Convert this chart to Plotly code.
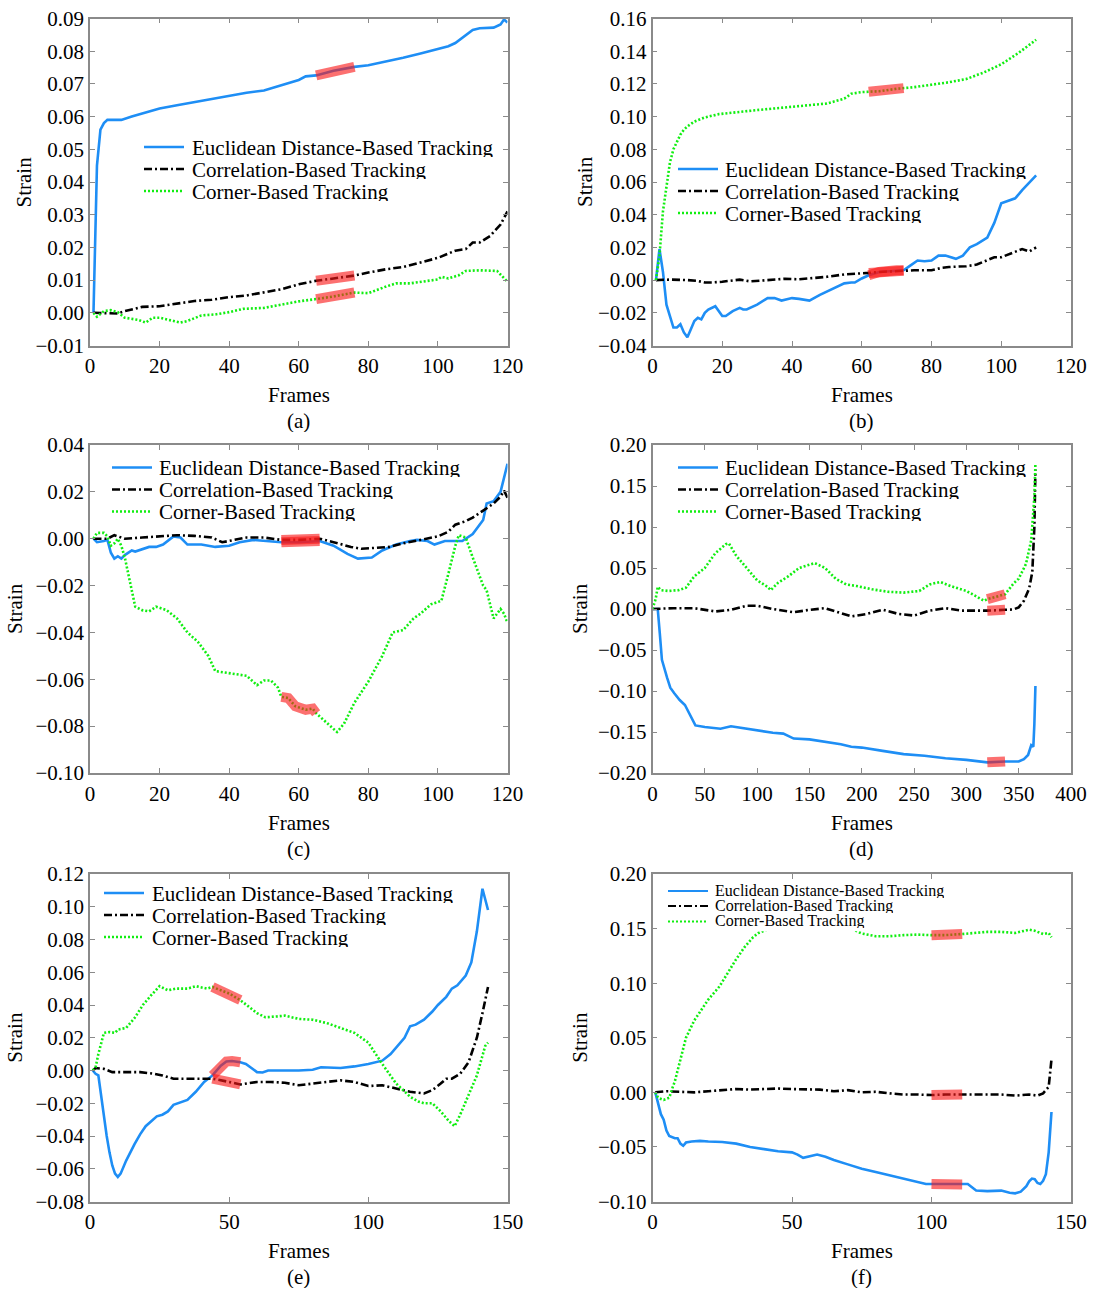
import plotly.graph_objects as go

W, H = 1094, 1289

# ---------------- data ----------------
# (a)
a_euc_x = [1,2,3,4,5,9,12,15,20,25,30,35,40,45,50,55,60,62,65,70,76,80,85,90,95,100,103,105,107,110,112,116,118,119,120]
a_euc = [0,0.045,0.056,0.058,0.059,0.059,0.060,0.061,0.0625,0.0635,0.0645,0.0655,0.0665,0.0673,0.068,0.0695,0.0712,0.0723,0.0726,0.074,0.0752,0.0757,0.0768,0.078,0.0793,0.0806,0.0815,0.0825,0.084,0.0865,0.087,0.0872,0.0882,0.0897,0.0888]
a_cor_x = [1,5,8,10,15,20,25,30,35,40,45,50,55,60,65,70,76,80,85,90,95,100,105,108,110,112,115,118,120]
a_cor = [0,0,-0.0002,0.0005,0.0018,0.002,0.0028,0.0036,0.004,0.0048,0.0053,0.0062,0.0072,0.0087,0.0098,0.0105,0.0114,0.0123,0.0133,0.014,0.0153,0.0168,0.019,0.0195,0.0215,0.0215,0.0235,0.027,0.031]
a_crn_x = [1,2,4,6,8,10,14,16,18,20,24,26,28,32,36,40,44,50,55,60,65,70,76,80,85,88,92,96,100,101,103,106,108,112,115,117,120]
a_crn = [0,-0.0012,0.0005,0.0008,0.0002,-0.0015,-0.0022,-0.003,-0.0015,-0.0015,-0.0025,-0.003,-0.0025,-0.0008,-0.0005,0.0002,0.0012,0.0015,0.0025,0.0035,0.0042,0.005,0.0062,0.006,0.008,0.009,0.009,0.0095,0.0102,0.011,0.0105,0.0115,0.0128,0.013,0.0128,0.0128,0.0095]
a_hl = [(65, 76), (65, 76), (65, 76)]

# (b)
b_euc_x = [1,2,3,4,5,6,7,8,9,10,11,12,13,14,15,16,18,20,21,23,25,26,27,30,33,35,37,40,42,45,48,50,52,55,57,58,60,62,65,70,72,74,76,78,80,82,84,87,89,91,93,96,98,100,102,104,106,110]
b_euc = [0,0.019,0.005,-0.015,-0.022,-0.029,-0.029,-0.027,-0.032,-0.035,-0.03,-0.025,-0.023,-0.024,-0.02,-0.018,-0.016,-0.022,-0.022,-0.019,-0.017,-0.018,-0.018,-0.015,-0.011,-0.011,-0.0125,-0.011,-0.0115,-0.0125,-0.009,-0.007,-0.005,-0.002,-0.0015,-0.0015,0.001,0.003,0.005,0.006,0.006,0.009,0.012,0.0115,0.012,0.015,0.015,0.013,0.015,0.02,0.022,0.026,0.035,0.047,0.0485,0.05,0.055,0.064]
b_cor_x = [1,5,10,13,15,17,20,25,28,30,35,38,42,45,50,55,60,62,65,70,72,75,80,83,85,90,93,96,98,100,103,106,108,110]
b_cor = [0,0.0003,0,-0.0005,-0.0015,-0.0015,-0.001,0.0003,-0.0008,-0.0005,0.0005,0.0008,0.0005,0.001,0.002,0.0035,0.004,0.0044,0.005,0.0055,0.0057,0.006,0.006,0.0075,0.008,0.0085,0.0095,0.0125,0.014,0.014,0.0165,0.019,0.0175,0.02]
b_crn_x = [1,2,3,4,5,6,7,8,9,10,12,15,19,25,30,35,40,45,50,55,57,60,62,65,70,72,75,80,85,90,95,100,105,110]
b_crn = [0,0.015,0.042,0.058,0.072,0.08,0.085,0.089,0.092,0.094,0.097,0.0995,0.1015,0.103,0.104,0.105,0.106,0.107,0.108,0.111,0.114,0.115,0.1152,0.1155,0.117,0.1174,0.118,0.1195,0.121,0.123,0.127,0.132,0.139,0.147]
b_hl = [(62, 72), (62, 72), (62, 72)]

# (c)
c_euc_x = [1,2,4,5,6,7,8,9,10,12,13,17,19,21,24,26,28,32,34,36,40,43,47,50,55,60,66,70,74,77,81,84,88,92,94,97,99,102,105,107,110,113,114,116,118,120]
c_euc = [0,-0.0015,-0.001,-0.0005,-0.006,-0.0085,-0.0075,-0.0085,-0.007,-0.005,-0.0055,-0.0035,-0.0035,-0.0025,0.001,0.0005,-0.0025,-0.0025,-0.003,-0.0035,-0.003,-0.0015,-0.0005,-0.0008,-0.0015,-0.0015,-0.001,-0.003,-0.0065,-0.0085,-0.008,-0.005,-0.0025,-0.001,-0.0005,-0.001,-0.0025,-0.001,-0.001,-0.001,0.002,0.008,0.015,0.016,0.02,0.032]
c_cor_x = [1,3,5,7,10,15,20,25,30,35,38,40,45,50,55,60,66,70,75,78,82,86,90,95,100,103,105,108,110,113,116,118,119,120]
c_cor = [0,0,0,0.0015,0,0.0005,0.001,0.0015,0.0012,0.0005,-0.0015,-0.001,0.0005,0.0005,-0.0005,-0.0005,0,-0.0015,-0.0035,-0.0043,-0.004,-0.0035,-0.002,-0.0005,0.001,0.003,0.006,0.0075,0.009,0.012,0.015,0.018,0.0205,0.0175]
c_crn_x = [1,2,4,5,6,7,8,9,10,11,12,13,15,17,19,22,25,28,31,34,36,40,45,48,50,52,54,55,57,59,62,64,65,68,71,73,76,80,84,87,90,93,95,98,101,103,105,106,108,110,112,113,114,116,118,119,120]
c_crn = [0,0.0025,0.0025,0.001,-0.003,-0.002,0,-0.003,-0.008,-0.015,-0.023,-0.029,-0.0305,-0.031,-0.029,-0.0305,-0.034,-0.04,-0.044,-0.05,-0.0565,-0.0575,-0.0585,-0.0625,-0.0605,-0.0605,-0.0635,-0.0675,-0.068,-0.0715,-0.073,-0.0725,-0.0745,-0.0785,-0.0825,-0.079,-0.07,-0.061,-0.05,-0.04,-0.039,-0.034,-0.032,-0.028,-0.0265,-0.015,-0.003,0.0015,0.0005,-0.008,-0.016,-0.02,-0.022,-0.034,-0.03,-0.032,-0.036]
c_hl = [(55, 66), (55, 66), (55, 65)]

# (d)
d_euc_x = [0,5,7,9,14,17,21,26,31,36,41,50,60,65,75,85,100,115,125,135,150,165,180,190,200,220,240,260,280,300,320,337,345,350,355,359,362,364,365,366]
d_euc = [0,0,-0.03,-0.062,-0.084,-0.096,-0.103,-0.111,-0.117,-0.13,-0.142,-0.144,-0.145,-0.146,-0.143,-0.145,-0.148,-0.151,-0.152,-0.158,-0.159,-0.162,-0.165,-0.168,-0.169,-0.173,-0.177,-0.179,-0.182,-0.184,-0.187,-0.186,-0.186,-0.186,-0.183,-0.178,-0.166,-0.168,-0.14,-0.094]
d_cor_x = [0,20,40,60,75,90,100,115,135,150,165,180,190,205,220,235,250,265,280,295,310,320,337,345,350,355,360,363,365,366]
d_cor = [0,0.001,0.001,-0.003,-0.001,0.004,0.004,0,-0.004,-0.001,0.001,-0.005,-0.009,-0.006,-0.001,-0.006,-0.008,-0.002,0.001,-0.002,-0.002,-0.002,-0.001,-0.0005,0.002,0.01,0.025,0.045,0.1,0.17]
d_crn_x = [0,3,5,8,15,25,32,40,50,60,70,73,80,90,100,110,113,120,130,140,155,165,175,185,195,210,225,240,255,265,275,285,300,310,317,320,337,345,350,357,362,365,366]
d_crn = [0,0.012,0.027,0.023,0.022,0.023,0.026,0.04,0.05,0.068,0.079,0.08,0.065,0.05,0.035,0.027,0.023,0.032,0.04,0.05,0.056,0.05,0.037,0.03,0.028,0.024,0.021,0.02,0.022,0.03,0.033,0.028,0.022,0.015,0.01,0.012,0.018,0.031,0.037,0.055,0.084,0.137,0.178]
d_hl = [(320, 337), (320, 337), (320, 337)]

# (e)
e_euc_x = [1,2,3,4,5,6,7,8,9,10,11,13,16,18,20,22,24,26,28,30,33,35,38,41,44,45,47,49,51,54,56,58,60,62,64,70,75,80,83,90,95,100,103,105,108,110,113,115,117,120,123,125,128,130,132,135,137,139,141,143]
e_euc = [0,-0.002,-0.003,-0.015,-0.03,-0.04,-0.05,-0.058,-0.063,-0.065,-0.063,-0.055,-0.045,-0.039,-0.034,-0.031,-0.028,-0.027,-0.025,-0.021,-0.019,-0.018,-0.013,-0.007,-0.003,-0.001,0.003,0.0055,0.0058,0.005,0.004,0.0015,-0.001,-0.0012,0,0,0,0.0005,0.002,0.0015,0.0025,0.004,0.005,0.006,0.01,0.014,0.02,0.027,0.028,0.031,0.036,0.04,0.045,0.05,0.052,0.058,0.066,0.085,0.111,0.098]
e_cor_x = [1,2,5,8,12,18,23,26,30,35,40,44,50,54,60,65,70,75,80,85,90,95,100,105,110,115,120,123,126,128,130,133,136,139,141,143]
e_cor = [0,0.0015,0.001,-0.001,-0.001,-0.001,-0.002,-0.003,-0.005,-0.005,-0.005,-0.005,-0.007,-0.0085,-0.007,-0.007,-0.0075,-0.009,-0.008,-0.007,-0.006,-0.007,-0.0095,-0.009,-0.011,-0.013,-0.014,-0.012,-0.008,-0.005,-0.005,-0.002,0.005,0.02,0.035,0.051]
e_crn_x = [1,2,3,5,7,9,10,13,16,19,22,25,28,31,35,38,42,44,50,54,60,63,67,70,75,80,85,90,95,100,105,110,115,118,120,123,126,129,131,133,136,139,142,143]
e_crn = [0,0.002,0.01,0.023,0.0235,0.023,0.025,0.026,0.032,0.04,0.046,0.0515,0.049,0.05,0.05,0.0515,0.05,0.051,0.047,0.043,0.035,0.0325,0.033,0.0335,0.0315,0.031,0.029,0.026,0.023,0.017,0.004,-0.008,-0.016,-0.019,-0.02,-0.02,-0.025,-0.031,-0.034,-0.027,-0.015,-0.003,0.015,0.017]
e_hl = [(44, 54), (44, 54), (44, 54)]

# (f)
f_euc_x = [1,2,3,4,5,6,8,9,10,11,12,14,17,20,25,30,35,40,45,50,52,54,56,59,62,65,70,75,80,85,90,95,98,100,105,111,113,116,120,125,128,130,132,134,135,136,137,138,139,140,141,142,143]
f_euc = [0,-0.01,-0.02,-0.025,-0.035,-0.04,-0.042,-0.042,-0.047,-0.049,-0.046,-0.045,-0.0445,-0.045,-0.0455,-0.047,-0.05,-0.052,-0.054,-0.055,-0.057,-0.06,-0.059,-0.057,-0.059,-0.062,-0.066,-0.07,-0.073,-0.076,-0.079,-0.082,-0.084,-0.084,-0.084,-0.0845,-0.084,-0.09,-0.0905,-0.09,-0.092,-0.0925,-0.091,-0.086,-0.0815,-0.079,-0.0795,-0.083,-0.084,-0.081,-0.075,-0.055,-0.018]
f_cor_x = [1,5,10,15,20,25,30,35,40,45,50,55,60,65,70,75,80,85,90,95,100,105,111,115,120,125,130,135,138,140,142,143]
f_cor = [0,0.001,0.0005,0,0.001,0.002,0.003,0.0025,0.003,0.0035,0.003,0.003,0.0025,0.001,0.002,0,0.0005,-0.001,-0.002,-0.002,-0.0025,-0.002,-0.002,-0.0015,-0.002,-0.002,-0.003,-0.002,-0.003,-0.001,0.005,0.03]
f_crn_x = [1,2,4,6,7,8,10,12,15,18,20,24,27,30,33,36,38,45,55,65,72,75,80,85,90,95,100,105,111,115,120,125,130,135,137,140,142,143]
f_crn = [0,-0.005,-0.007,-0.005,0.003,0.01,0.03,0.05,0.066,0.078,0.085,0.097,0.11,0.122,0.133,0.142,0.146,0.153,0.156,0.153,0.149,0.1455,0.143,0.143,0.144,0.1445,0.144,0.144,0.145,0.146,0.147,0.147,0.146,0.149,0.148,0.145,0.146,0.142]
f_hl = [(100, 111), (100, 111), (100, 111)]

series_names = ["Euclidean Distance-Based Tracking", "Correlation-Based Tracking", "Corner-Based Tracking"]
panel_labels = ["(a)", "(b)", "(c)", "(d)", "(e)", "(f)"]
x_ranges = [(0, 120, 20), (0, 120, 20), (0, 120, 20), (0, 400, 50), (0, 150, 50), (0, 150, 50)]
y_ranges = [(-0.01, 0.09, 0.01), (-0.04, 0.16, 0.02), (-0.10, 0.04, 0.02), (-0.20, 0.20, 0.05), (-0.08, 0.12, 0.02), (-0.10, 0.20, 0.05)]

panels_data = [
    ((a_euc_x, a_euc), (a_cor_x, a_cor), (a_crn_x, a_crn), a_hl),
    ((b_euc_x, b_euc), (b_cor_x, b_cor), (b_crn_x, b_crn), b_hl),
    ((c_euc_x, c_euc), (c_cor_x, c_cor), (c_crn_x, c_crn), c_hl),
    ((d_euc_x, d_euc), (d_cor_x, d_cor), (d_crn_x, d_crn), d_hl),
    ((e_euc_x, e_euc), (e_cor_x, e_cor), (e_crn_x, e_crn), e_hl),
    ((f_euc_x, f_euc), (f_cor_x, f_cor), (f_crn_x, f_crn), f_hl),
]

# ---------------- styling / layout ----------------
FONT = "Liberation Serif, Times New Roman, serif"
BLUE = "#1e8ef5"
BLACK = "#000000"
GREEN = "#11ee11"
HL = "rgba(250,25,25,0.62)"
FRAME = "#8a8a8a"

styles = [
    dict(color=BLUE, width=2.6),
    dict(color=BLACK, width=2.6, dash="8px,3px,2px,3px"),
    dict(color=GREEN, width=2.6, dash="2px,2px"),
]

cols = [(90, 507.5), (652.5, 1071)]
rows = [(18.5, 345.5), (445, 773), (874, 1201.5)]
strain_x = [23.5, 585, 15, 580, 15, 580]
legend_geo = [
    (144, 184, 189.5, [147, 169, 191], 21),
    (678, 718, 723, [169, 191, 213], 21),
    (112, 152, 156.5, [467.5, 489.5, 511.5], 21),
    (678, 718, 723, [467.5, 489.5, 511.5], 21),
    (104, 144, 149.5, [893, 915, 937], 21),
    (668, 708, 712.5, [891, 906, 921.5], 16),
]


def PX(x):
    return x / W


def PY(y):
    return 1 - y / H


fig = go.Figure()
layout = dict(width=W, height=H, margin=dict(l=0, r=0, t=0, b=0, pad=0),
              paper_bgcolor="white", plot_bgcolor="white", showlegend=False,
              font=dict(family=FONT, size=21, color="black"))
annotations = []
shapes = []

for i, (euc, cor, crn, hls) in enumerate(panels_data):
    n = "" if i == 0 else str(i + 1)
    xa, ya = "x" + n, "y" + n
    l, r = cols[i % 2]
    t, b = rows[i // 2]
    curves = [euc, cor, crn]
    for (xs, ys), st in zip(curves, styles):
        fig.add_trace(go.Scatter(x=xs, y=ys, mode="lines", line=st, xaxis=xa, yaxis=ya,
                                 hoverinfo="skip"))
    for (xs, ys), (h0, h1) in zip(curves, hls):
        sx = [x for x in xs if h0 <= x <= h1]
        sy = [y for x, y in zip(xs, ys) if h0 <= x <= h1]
        fig.add_trace(go.Scatter(x=sx, y=sy, mode="lines", line=dict(color=HL, width=10),
                                 xaxis=xa, yaxis=ya, hoverinfo="skip"))
    x0, x1, xd = x_ranges[i]
    y0, y1, yd = y_ranges[i]
    common = dict(showline=True, linecolor=FRAME, linewidth=1.5, mirror="ticks",
                  ticks="inside", ticklen=5, tickwidth=1, tickcolor=FRAME,
                  showgrid=False, zeroline=False, automargin=False,
                  tickfont=dict(family=FONT, size=21, color="black"))
    layout["xaxis" + n] = dict(domain=[PX(l), PX(r)], anchor=ya, range=[x0, x1],
                               tick0=0, dtick=xd, ticklabelstandoff=1, **common)
    layout["yaxis" + n] = dict(domain=[PY(b), PY(t)], anchor=xa, range=[y0, y1],
                               tick0=0, dtick=yd, tickformat=".2f", ticklabelstandoff=0, **common)
    mid = (l + r) / 2
    annotations.append(dict(text="Frames", x=PX(mid), y=PY(b + 49.5), xref="paper", yref="paper",
                            showarrow=False, xanchor="center", yanchor="middle", height=22,
                            font=dict(family=FONT, size=21, color="black")))
    annotations.append(dict(text=panel_labels[i], x=PX(mid), y=PY(b + 75.5), xref="paper", yref="paper",
                            showarrow=False, xanchor="center", yanchor="middle", height=22,
                            font=dict(family=FONT, size=21, color="black")))
    annotations.append(dict(text="Strain", x=PX(strain_x[i]), y=PY((t + b) / 2), xref="paper", yref="paper",
                            showarrow=False, xanchor="center", yanchor="middle", textangle=-90,
                            font=dict(family=FONT, size=21, color="black")))
    # legend
    lx0, lx1, tx, lys, fs = legend_geo[i]
    if i == 5:
        shapes.append(dict(type="rect", xref=xa, yref=ya, x0=3, x1=76, y0=0.1475, y1=0.194,
                           fillcolor="white", line=dict(width=0), layer="above"))
    for name, st, ly in zip(series_names, styles, lys):
        sh = dict(type="line", xref="paper", yref="paper", x0=PX(lx0), x1=PX(lx1),
                  y0=PY(ly), y1=PY(ly), layer="above",
                  line=dict(color=st["color"], width=2.6 if fs > 18 else 2.2))
        if "dash" in st:
            sh["line"]["dash"] = st["dash"]
        shapes.append(sh)
        annotations.append(dict(text=name, x=PX(tx), y=PY(ly), xref="paper", yref="paper",
                                showarrow=False, xanchor="left", yanchor="middle",
                                height=19 if fs > 18 else 14,
                                font=dict(family=FONT, size=fs, color="black")))

layout["annotations"] = annotations
layout["shapes"] = shapes
fig.update_layout(**layout)
fig.write_html("out.html")
